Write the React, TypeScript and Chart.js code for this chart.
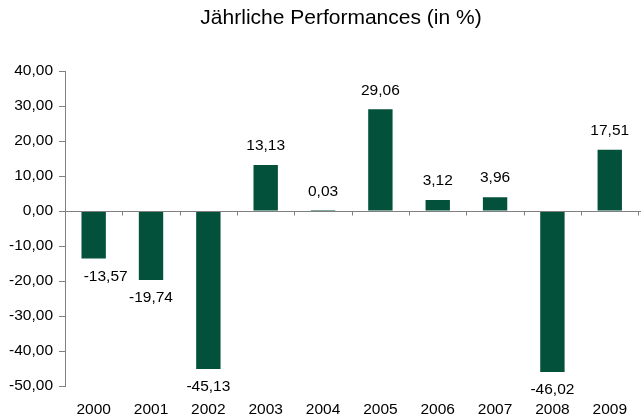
import React, { useEffect, useRef } from "react";
import { Chart, registerables } from "chart.js";

Chart.register(...registerables);

const TITLE = "Jährliche Performances (in %)";
const YEARS = ["2000", "2001", "2002", "2003", "2004", "2005", "2006", "2007", "2008", "2009"];
const PERFORMANCE = [-13.57, -19.74, -45.13, 13.13, 0.03, 29.06, 3.12, 3.96, -46.02, 17.51];
const Y_MIN = -50;
const Y_MAX = 40;
const Y_STEP = 10;

const FONT = '"Liberation Sans", Arial, sans-serif';
const BAR_COLOR = "#03513b";
const AXIS_COLOR = "#808080";

const fmt = (v: number) => v.toFixed(2).replace(".", ",");

const overlayPlugin = {
  id: "overlay",
  afterDatasetsDraw(chart: any) {
    const { ctx, chartArea } = chart;
    const y = chart.scales.y;
    const x = chart.scales.x;
    const zeroY = Math.round(y.getPixelForValue(0)) + 0.5;
    ctx.save();
    // zero line with category tick marks
    ctx.strokeStyle = AXIS_COLOR;
    ctx.lineWidth = 1;
    ctx.beginPath();
    ctx.moveTo(chartArea.left, zeroY);
    ctx.lineTo(chart.width, zeroY);
    const n = YEARS.length;
    const w = (chartArea.right - chartArea.left) / n;
    for (let i = 1; i <= n; i++) {
      const tx = Math.round(chartArea.left + i * w) + 0.5;
      ctx.moveTo(tx, zeroY);
      ctx.lineTo(tx, zeroY + 4);
    }
    ctx.stroke();

    // data labels
    ctx.fillStyle = "#000";
    ctx.font = `15.5px ${FONT}`;
    ctx.textAlign = "center";
    ctx.textBaseline = "middle";
    const meta = chart.getDatasetMeta(0);
    meta.data.forEach((bar: any, i: number) => {
      const v = PERFORMANCE[i];
      const nudge = i === 0 ? 12 : 0;
      const ly = v >= 0 ? bar.y - 19 : bar.y + 18;
      ctx.fillText(fmt(v), bar.x + nudge, ly);
    });

    // title
    ctx.font = `21px ${FONT}`;
    ctx.fillText(TITLE, 341, 18);
    ctx.restore();
  },
};

export default function App() {
  const ref = useRef<HTMLCanvasElement>(null);
  useEffect(() => {
    if (!ref.current) return;
    const chart = new Chart(ref.current, {
      type: "bar",
      data: {
        labels: YEARS,
        datasets: [
          {
            data: PERFORMANCE,
            backgroundColor: BAR_COLOR,
            borderWidth: 0,
            barPercentage: 0.425,
            categoryPercentage: 1,
          },
        ],
      },
      options: {
        responsive: false,
        animation: false,
        layout: { padding: { top: 71, right: 0, bottom: 0, left: 0 } },
        plugins: {
          legend: { display: false },
          title: { display: false },
          tooltip: { enabled: false },
        },
        scales: {
          x: {
            grid: { display: false, drawTicks: false },
            border: { display: false },
            ticks: {
              color: "#000",
              font: { family: FONT, size: 15.5 },
              padding: 14,
              maxRotation: 0,
            },
            afterFit(scale: any) {
              scale.height = 34;
            },
          },
          y: {
            min: Y_MIN,
            max: Y_MAX,
            grid: {
              display: true,
              drawOnChartArea: false,
              drawTicks: true,
              tickLength: 6,
              color: AXIS_COLOR,
            },
            border: { display: true, color: AXIS_COLOR, width: 1 },
            ticks: {
              stepSize: Y_STEP,
              color: "#000",
              font: { family: FONT, size: 15.5 },
              padding: 6,
              callback: (v: any) => fmt(Number(v)),
            },
            afterFit(scale: any) {
              scale.width = 65;
            },
          },
        },
      },
      plugins: [overlayPlugin],
    });
    return () => chart.destroy();
  }, []);
  return (
    <div style={{ position: "absolute", left: 0, top: 0, width: 641, height: 420, background: "#fff" }}>
      <canvas ref={ref} width={641} height={420} style={{ display: "block" }} />
    </div>
  );
}
